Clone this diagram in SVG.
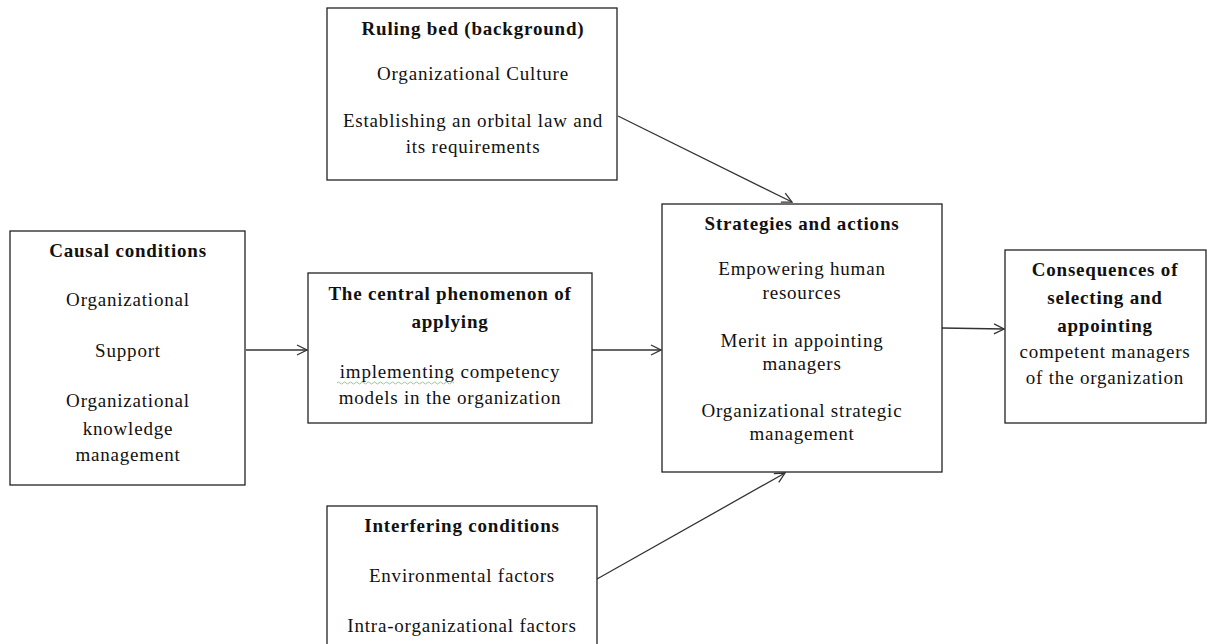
<svg xmlns="http://www.w3.org/2000/svg" width="1207" height="644" viewBox="0 0 1207 644">
<defs>
<style>
.box{fill:#fff;stroke:#222;stroke-width:1.3}
text{font-family:"Liberation Serif","Times New Roman",serif;font-size:19px;letter-spacing:0.8px;fill:#111;text-anchor:middle}
.b{font-weight:bold}
.edge{stroke:#333;stroke-width:1.3;fill:none}
</style>
<marker id="arr" viewBox="0 0 12 12" refX="11" refY="6" markerWidth="12" markerHeight="12" markerUnits="userSpaceOnUse" orient="auto">
<path d="M1,1 L11,6 L1,11" fill="none" stroke="#333" stroke-width="1.3"/>
</marker>
</defs>
<rect width="1207" height="644" fill="#fff"/>
<g id="connectors">
<line class="edge" x1="246" y1="350" x2="307" y2="350" marker-end="url(#arr)"/>
<line class="edge" x1="592" y1="350" x2="661" y2="350" marker-end="url(#arr)"/>
<line class="edge" x1="942" y1="328" x2="1004" y2="329" marker-end="url(#arr)"/>
<line class="edge" x1="618" y1="116" x2="792" y2="202" marker-end="url(#arr)"/>
<line class="edge" x1="597" y1="579" x2="785" y2="473" marker-end="url(#arr)"/>
</g>
<g id="ruling">
<rect class="box" x="327" y="8" width="290" height="172"/>
<text class="b" x="473" y="35">Ruling bed (background)</text>
<text x="473" y="80">Organizational Culture</text>
<text x="473" y="127">Establishing an orbital law and</text>
<text x="473" y="153">its requirements</text>
</g>
<g id="causal">
<rect class="box" x="10" y="231" width="235" height="254"/>
<text class="b" x="128" y="257">Causal conditions</text>
<text x="128" y="306">Organizational</text>
<text x="128" y="357">Support</text>
<text x="128" y="407">Organizational</text>
<text x="128" y="435">knowledge</text>
<text x="128" y="461">management</text>
</g>
<g id="central">
<rect class="box" x="308" y="273" width="284" height="150"/>
<text class="b" x="450" y="300">The central phenomenon of</text>
<text class="b" x="450" y="328">applying</text>
<text x="450" y="378">implementing competency</text>
<text x="450" y="404">models in the organization</text>
<path d="M337,383 q1.5,-2 3,0 t3,0 t3,0 t3,0 t3,0 t3,0 t3,0 t3,0 t3,0 t3,0 t3,0 t3,0 t3,0 t3,0 t3,0 t3,0 t3,0 t3,0 t3,0 t3,0 t3,0 t3,0 t3,0 t3,0 t3,0 t3,0 t3,0 t3,0 t3,0 t3,0 t3,0 t3,0 t3,0 t3,0 t3,0 t3,0 t3,0 t3,0 t3,0" fill="none" stroke="#7bbf7b" stroke-width="0.8"/>
</g>
<g id="strategies">
<rect class="box" x="662" y="204" width="280" height="268"/>
<text class="b" x="802" y="230">Strategies and actions</text>
<text x="802" y="275">Empowering human</text>
<text x="802" y="299">resources</text>
<text x="802" y="347">Merit in appointing</text>
<text x="802" y="370">managers</text>
<text x="802" y="417">Organizational strategic</text>
<text x="802" y="440">management</text>
</g>
<g id="consequences">
<rect class="box" x="1005" y="250" width="201" height="173"/>
<text class="b" x="1105" y="276">Consequences of</text>
<text class="b" x="1105" y="304">selecting and</text>
<text class="b" x="1105" y="332">appointing</text>
<text x="1105" y="358">competent managers</text>
<text x="1105" y="384">of the organization</text>
</g>
<g id="interfering">
<rect class="box" x="327" y="506" width="270" height="160"/>
<text class="b" x="462" y="532">Interfering conditions</text>
<text x="462" y="582">Environmental factors</text>
<text x="462" y="632">Intra-organizational factors</text>
</g>
</svg>
